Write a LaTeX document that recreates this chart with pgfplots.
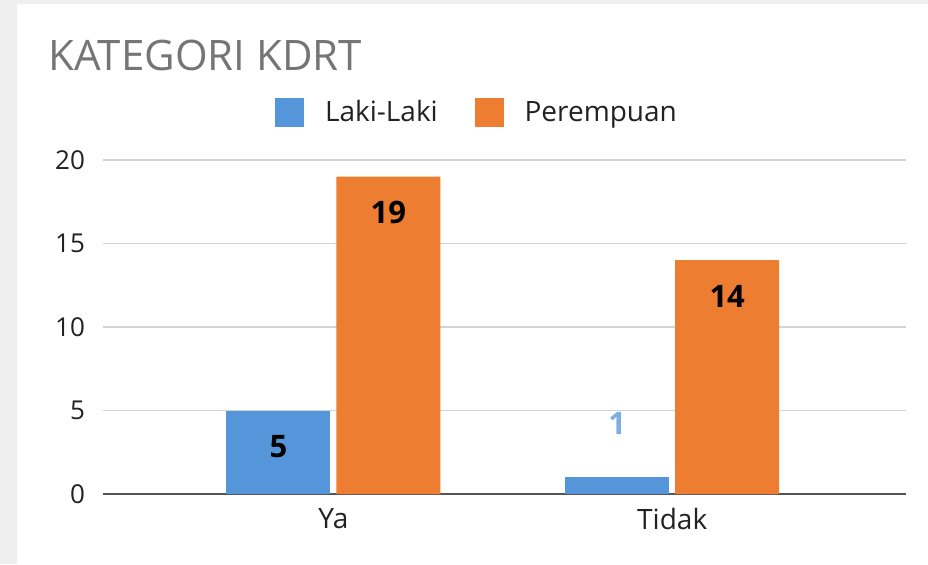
\documentclass[border=0pt]{standalone}
\usepackage{fontspec}
\setmainfont{Open Sans}
\usepackage{pgfplots}
\pgfplotsset{compat=1.18}
\definecolor{bgray}{HTML}{EFEFEF}
\definecolor{lblue}{HTML}{5596DA}
\definecolor{lorange}{HTML}{ED7D31}
\definecolor{titlegray}{HTML}{757575}
\definecolor{gridgray}{HTML}{D3D3D3}
\definecolor{axisgray}{HTML}{555555}
\definecolor{labblue}{HTML}{7EAFE2}
\definecolor{txt}{HTML}{222222}
\begin{document}
\begin{tikzpicture}[x=1pt,y=1pt]
\fill[bgray] (0,0) rectangle (464,282);
\fill[white] (8.5,0) rectangle (464,280);
\path[use as bounding box] (0,0) rectangle (464,282);
\node[anchor=base west, text=titlegray, font=\fontsize{21}{25}\selectfont, inner sep=0pt] at (24,247) {KATEGORI KDRT};
\begin{axis}[
  at={(51.5pt,35pt)}, anchor=south west,
  scale only axis, width=401.5pt, height=167pt,
  ymin=0, ymax=20, xmin=-0.68, xmax=1.69,
  ytick={0,5,10,15,20}, xtick={0,1}, xticklabels={Ya,Tidak},
  /pgf/number format/assume math mode=true,
  ymajorgrids, grid style={gridgray, line width=0.6pt},
  separate axis lines,
  axis x line*=bottom, axis y line*=left,
  x axis line style={-, axisgray, line width=1.3pt},
  y axis line style={draw=none},
  major tick length=0pt, tick style={draw=none},
  yticklabel style={font=\fontsize{13}{15}\selectfont, text=txt, xshift=-5.5pt},
  xticklabel style={font=\fontsize{14}{16}\selectfont, text=txt, yshift=-3.5pt},
  legend style={at={(0.214,1.142)}, anchor=west, draw=none, fill=none, inner sep=0pt,
    legend columns=-1, font=\fontsize{14}{16}\selectfont, text=txt,
    /tikz/every even column/.append style={column sep=16.5pt},
    /tikz/every odd column/.append style={column sep=8.5pt}},
  legend cell align=left,
  clip=false,
]
\addlegendimage{legend image code/.code={\fill[lblue] (0pt,-7pt) rectangle (14pt,7pt);}}
\addlegendentry{Laki-Laki}
\addlegendimage{legend image code/.code={\fill[lorange] (0pt,-7pt) rectangle (14pt,7pt);}}
\addlegendentry{Perempuan}
\addplot[ybar, bar width=52pt, bar shift=-27.5pt, fill=lblue, draw=none, forget plot,
  nodes near coords,
  every node near coord/.append style={anchor=center, xshift=-27.5pt, yshift=-18pt, text=black, font=\bfseries\fontsize{15.5}{18}\selectfont}]
  coordinates {(0,5)};
\addplot[ybar, bar width=52pt, bar shift=-27.5pt, fill=lblue, draw=none, forget plot,
  nodes near coords,
  every node near coord/.append style={anchor=center, xshift=-27.5pt, yshift=27pt, text=labblue, font=\bfseries\fontsize{15.5}{18}\selectfont}]
  coordinates {(1,1)};
\addplot[ybar, bar width=52pt, bar shift=27.5pt, fill=lorange, draw=none, forget plot,
  nodes near coords,
  every node near coord/.append style={anchor=center, xshift=27.5pt, yshift=-18pt, text=black, font=\bfseries\fontsize{15.5}{18}\selectfont}]
  coordinates {(0,19) (1,14)};
\end{axis}
\end{tikzpicture}
\end{document}
